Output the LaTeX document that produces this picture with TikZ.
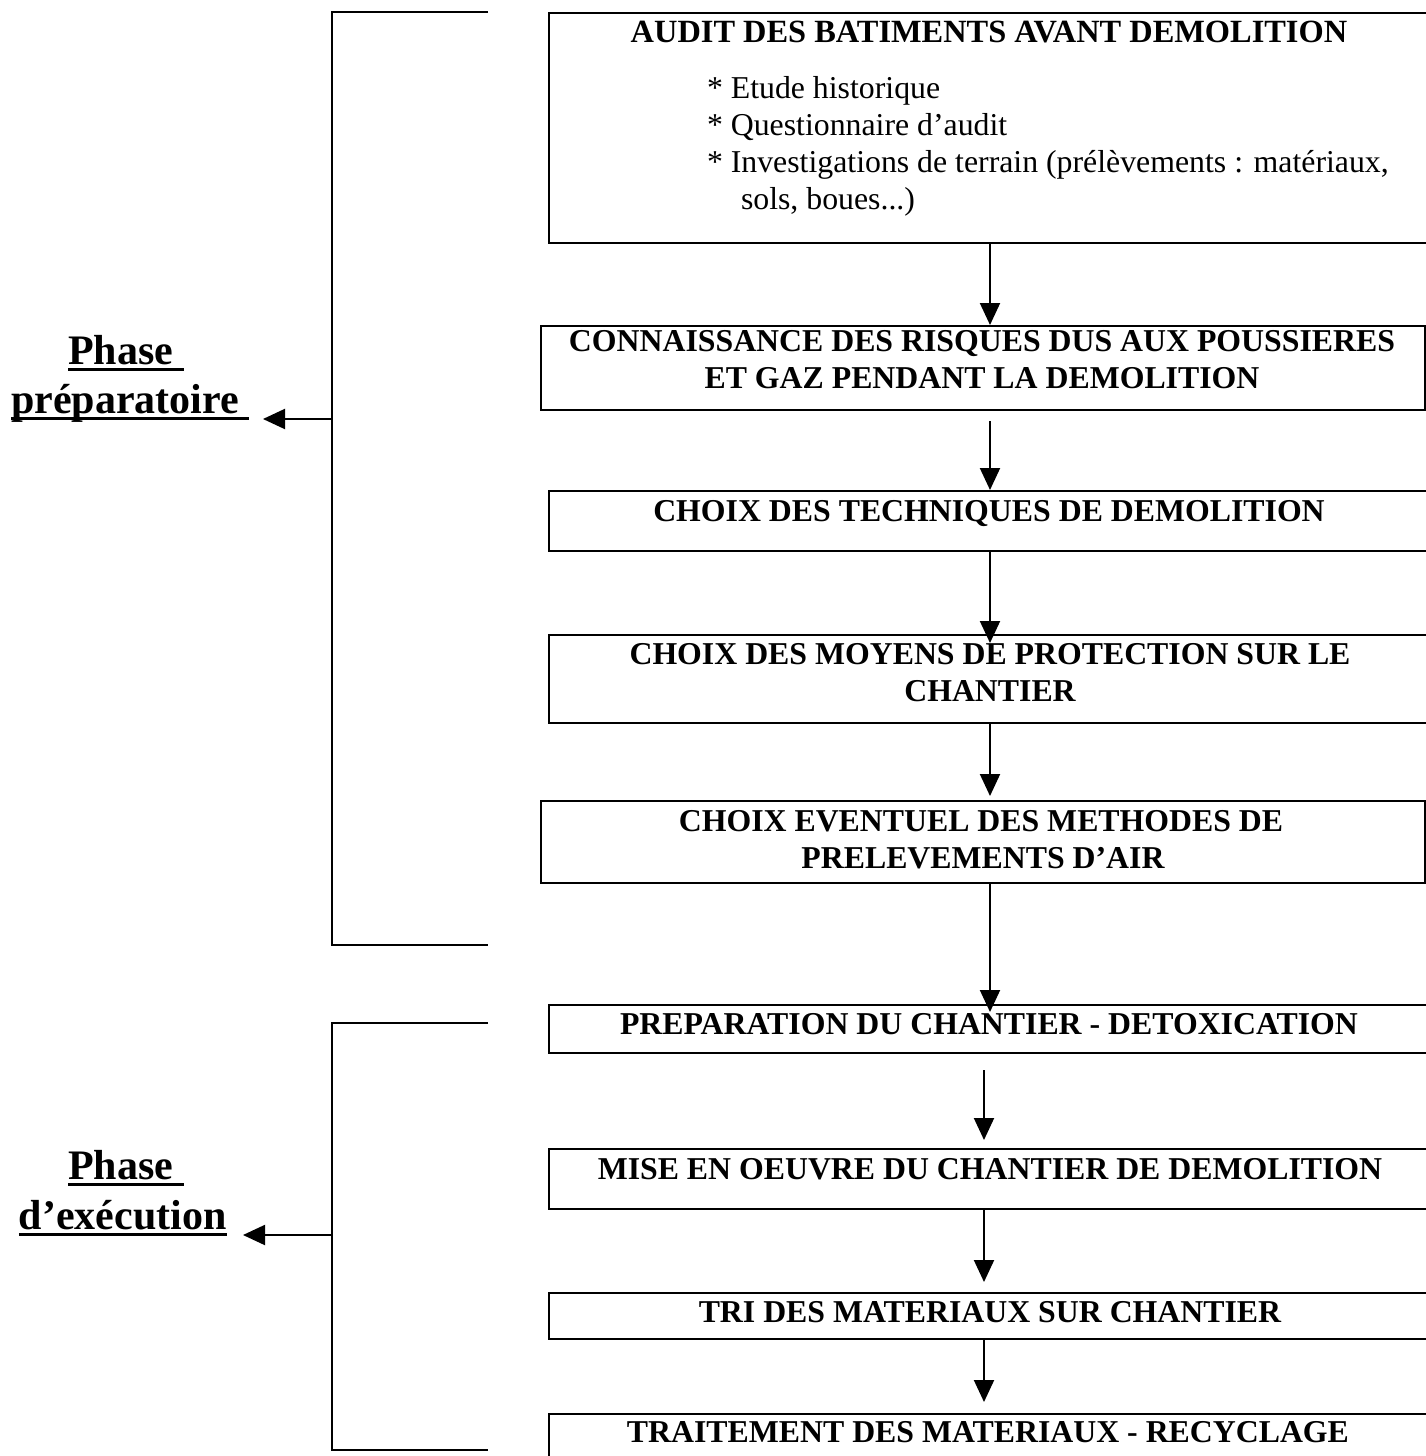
\documentclass[tikz,border=0pt]{standalone}
\usepackage{fontspec}
\setmainfont{Liberation Serif}
\usetikzlibrary{arrows.meta,calc}
\newcommand\myul[1]{\setbox0\hbox{#1}\rlap{\rule[-7pt]{\wd0}{3.5pt}}\box0}
\begin{document}
\begin{tikzpicture}[x=1pt,y=-1pt, line width=2pt,
 box/.style={draw, line width=2pt, anchor=north west, inner sep=0pt},
 tt/.style={font=\fontsize{31.8}{37}\selectfont\bfseries, anchor=base, inner sep=0pt},
 bl/.style={font=\fontsize{31.8}{37}\selectfont, anchor=base west, inner sep=0pt},
 ph/.style={font=\fontsize{42}{50}\selectfont\bfseries, anchor=base west, inner sep=0pt},
 arr/.style={-{Triangle[length=22pt,width=20pt]}, line width=2pt}]
\clip (0,0) rectangle (1426,1456);
\fill[white] (0,0) rectangle (1426,1456);
% boxes
\node[box, minimum width=882pt, minimum height=230pt] (b1) at (548,12) {};
\node[box, minimum width=884pt, minimum height=84pt] (b2) at (540,325) {};
\node[box, minimum width=882pt, minimum height=60pt] (b3) at (548,490) {};
\node[box, minimum width=882pt, minimum height=88pt] (b4) at (548,634) {};
\node[box, minimum width=884pt, minimum height=82pt] (b5) at (540,800) {};
\node[box, minimum width=882pt, minimum height=48pt] (b6) at (548,1004) {};
\node[box, minimum width=882pt, minimum height=60pt] (b7) at (548,1148) {};
\node[box, minimum width=882pt, minimum height=46pt] (b8) at (548,1292) {};
\node[box, minimum width=882pt, minimum height=80pt] (b9) at (548,1413) {};
% texts
\node[tt, font=\fontsize{32.4}{37}\selectfont\bfseries] (t1) at (989,42) {AUDIT DES BATIMENTS AVANT DEMOLITION};
\node[bl] (l1) at (706,98) {* Etude historique};
\node[bl] (l2) at (706,135) {* Questionnaire d’audit};
\node[bl] (l3) at (706,172) {* Investigations de terrain (prélèvements : matériaux,};
\node[bl] (l4) at (740,209) {sols, boues...)};
\node[tt] (t2a) at (982,351) {CONNAISSANCE DES RISQUES DUS AUX POUSSIERES};
\node[tt] (t2b) at (982,388) {ET GAZ PENDANT LA DEMOLITION};
\node[tt] (t3) at (989,521) {CHOIX DES TECHNIQUES DE DEMOLITION};
\node[tt] (t4a) at (990,664) {CHOIX DES MOYENS DE PROTECTION SUR LE};
\node[tt] (t4b) at (990,701) {CHANTIER};
\node[tt] (t5a) at (981,831) {CHOIX EVENTUEL DES METHODES DE};
\node[tt] (t5b) at (983,868) {PRELEVEMENTS D’AIR};
\node[tt] (t6) at (989,1034) {PREPARATION DU CHANTIER - DETOXICATION};
\node[tt] (t7) at (990,1179) {MISE EN OEUVRE DU CHANTIER DE DEMOLITION};
\node[tt] (t8) at (990,1322) {TRI DES MATERIAUX SUR CHANTIER};
\node[tt] (t9) at (988,1442) {TRAITEMENT DES MATERIAUX - RECYCLAGE};
% arrows
\draw[arr] (b1.south) -- (b2.north -| b1.south);
\draw[arr] ([yshift=-10pt]b2.south -| b1.south) -- (b3.north);
\draw[arr] (b3.south) -- ([yshift=-9pt]b4.north);
\draw[arr] (b4.south) -- ([yshift=4pt]b5.north -| b4.south);
\draw[arr] (b5.south -| b4.south) -- ([yshift=-8pt]b6.north);
\draw[arr] ([xshift=-6pt,yshift=-16pt]b6.south) -- ([xshift=-6pt,yshift=8pt]b7.north);
\draw[arr] ([xshift=-6pt]b7.south) -- ([xshift=-6pt,yshift=10pt]b8.north);
\draw[arr] ([xshift=-6pt]b8.south) -- ([xshift=-6pt,yshift=11pt]b9.north);
% brackets
\coordinate (ka1) at (488,12);
\coordinate (ka2) at (332,12);
\coordinate (ka3) at (332,945);
\coordinate (ka4) at (488,945);
\coordinate (km) at (332,419);
\coordinate (kt) at (263,419);
\draw (ka1) -- (ka2) -- (ka3) -- (ka4);
\draw[arr] (km) -- (kt);
\coordinate (kb1) at (488,1023);
\coordinate (kb2) at (332,1023);
\coordinate (kb3) at (332,1450);
\coordinate (kb4) at (488,1450);
\coordinate (kbm) at (332,1235);
\coordinate (kbt) at (243,1235);
\draw (kb1) -- (kb2) -- (kb3) -- (kb4);
\draw[arr] (kbm) -- (kbt);
% phase labels
\node[ph] (p1) at (67,364) {\myul{Phase\ }};
\node[ph] (p2) at (10,413) {\myul{préparatoire\ }};
\node[ph] (p3) at (67,1179) {\myul{Phase\ }};
\node[ph] (p4) at (18,1229) {\myul{d’exécution}};
\end{tikzpicture}
\end{document}
